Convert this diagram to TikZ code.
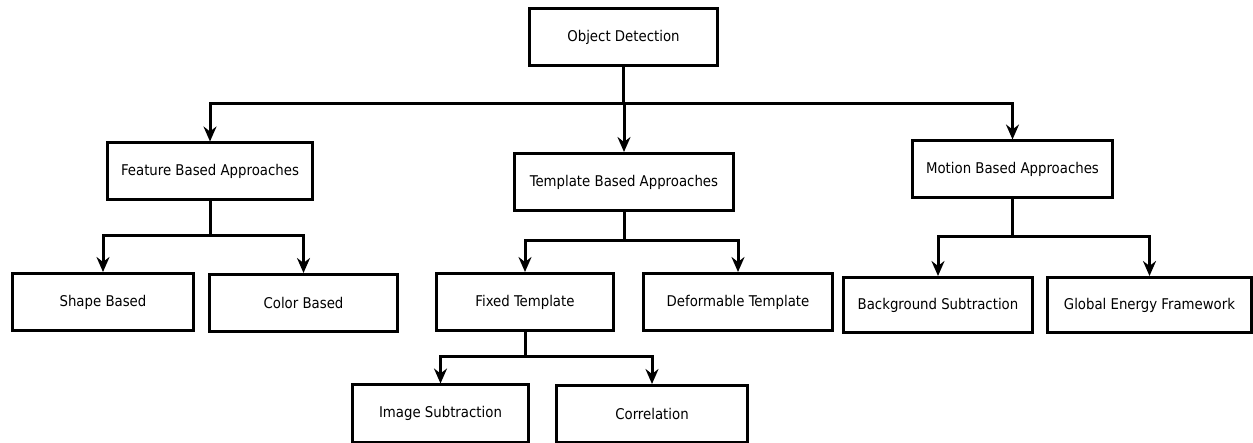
\documentclass[tikz,border=0pt]{standalone}
\usepackage{fontspec}
\setmainfont{DejaVu Sans Condensed}
\usepackage{tikz}
\usetikzlibrary{arrows.meta,positioning,calc}
\tikzset{
  catbox/.style={rectangle, draw=black, line width=3pt, fill=white,
                 align=center, font=\fontsize{14.8}{17}\selectfont,
                 minimum height=57pt, minimum width=#1},
  link/.style={line width=3pt, draw=black},
  arr/.style={-{Stealth[length=15pt,width=13pt,inset=5pt]}, line width=3pt, draw=black},
}

\begin{document}
\begin{tikzpicture}[x=1pt,y=-1pt]
    \useasboundingbox (0,0) rectangle (1253,443);
    % root
    \node[catbox=188pt] (od) at (623.5,37.5) {Object Detection};
    % approaches
    \node[catbox=205pt] (feat) at (210,171.5) {Feature Based Approaches};
    \node[catbox=219pt] (tmpl) at (624,182) {Template Based Approaches};
    \node[catbox=200pt] (mot) at (1012.5,169.5) {Motion Based Approaches};
    % leaves
    \node[catbox=181pt] (shape) at (103,302) {Shape Based};
    \node[catbox=188pt] (color) at (303.5,303) {Color Based};
    \node[catbox=177pt] (fixed) at (525,302) {Fixed Template};
    \node[catbox=189pt] (deform) at (738,302) {Deformable Template};
    \node[catbox=189pt, minimum height=55pt] (bgsub) at (938,305) {Background Subtraction};
    \node[catbox=204pt, minimum height=55pt] (glob) at (1149.5,305) {Global Energy Framework};
    \node[catbox=176pt] (imgsub) at (440.5,413.5) {Image Subtraction};
    \node[catbox=191pt] (corr) at (652,414) {Correlation};

    \draw[link] (od.south) -- (od.south |- 0,104) coordinate (j0);
    \draw[arr] (j0) -| (feat.north);
    \draw[arr] (j0) -| (tmpl.north);
    \draw[arr] (j0) -| (mot.north);

    \draw[link] (feat.south) -- (feat.south |- 0,236) coordinate (j1);
    \draw[arr] (j1) -| (shape.north);
    \draw[arr] (j1) -| (color.north);

    \draw[link] (tmpl.south) -- (tmpl.south |- 0,241) coordinate (j2);
    \draw[arr] (j2) -| (fixed.north);
    \draw[arr] (j2) -| (deform.north);

    \draw[link] (mot.south) -- (mot.south |- 0,237) coordinate (j3);
    \draw[arr] (j3) -| (bgsub.north);
    \draw[arr] (j3) -| (glob.north);

    \draw[link] (fixed.south) -- (fixed.south |- 0,357) coordinate (j4);
    \draw[arr] (j4) -| (imgsub.north);
    \draw[arr] (j4) -| (corr.north);
  \end{tikzpicture}
\end{document}
